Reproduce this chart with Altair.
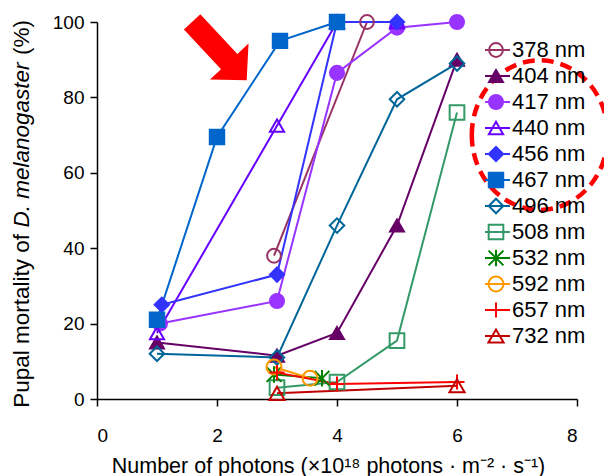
import altair as alt
import pandas as pd

series = ["378 nm", "404 nm", "417 nm", "440 nm", "456 nm", "467 nm",
          "496 nm", "508 nm", "532 nm", "592 nm", "657 nm", "732 nm"]

x_378 = [2.95, 4.5];            y_378 = [38, 100]
x_404 = [1, 3, 4, 5, 6];        y_404 = [15, 11.5, 17.5, 46, 90]
x_417 = [1.05, 3, 4, 5, 6];     y_417 = [20, 26, 86.5, 98.5, 100]
x_440 = [1, 3, 4, 5];           y_440 = [17.5, 72.5, 100, 100]
x_456 = [1.08, 3, 4, 5];        y_456 = [25, 33, 100, 100]
x_467 = [1, 2, 3.05, 4];        y_467 = [21, 69.5, 95, 100]
x_496 = [1, 3, 4, 5, 6];        y_496 = [12, 11, 46, 79.5, 89]
x_508 = [3, 4, 5, 6];           y_508 = [3, 4.5, 15.5, 76]
x_532 = [2.95, 3.75];           y_532 = [6.5, 5.5]
x_592 = [2.95, 3.55];           y_592 = [8.5, 5.5]
x_657 = [3, 4, 6];              y_657 = [7, 4, 4.5]
x_732 = [3, 6];                 y_732 = [1.5, 3.5]

xs = [x_378, x_404, x_417, x_440, x_456, x_467, x_496, x_508, x_532, x_592, x_657, x_732]
ys = [y_378, y_404, y_417, y_440, y_456, y_467, y_496, y_508, y_532, y_592, y_657, y_732]

colors = ["#993366", "#660066", "#9933FF", "#6600FF", "#3333FF", "#0066CC",
          "#006699", "#339966", "#008000", "#FF9900", "#FF0000", "#C00000"]

ASTER = "M-1,-1L1,1M-1,1L1,-1M0,-1.1L0,1.1"
PLUS = "M-1,0L1,0M0,-1L0,1"
shapes = ["circle", "triangle-up", "circle", "triangle-up", "diamond", "square",
          "diamond", "square", ASTER, "circle", PLUS, "triangle-up"]
fills = ["transparent", "#660066", "#9933FF", "transparent", "#3333FF", "#0066CC",
         "transparent", "transparent", "transparent", "transparent", "transparent", "transparent"]
sizes = [190, 230, 220, 200, 280, 320, 210, 250, 130, 190, 190, 200]

rows = []
for s, xx, yy in zip(series, xs, ys):
    for a, b in zip(xx, yy):
        rows.append({"series": s, "x": a, "y": b})
df = pd.DataFrame(rows)

# y-axis title pieces (middle part italic)
ytitle_parts = ["Pupal mortality of", "D. melanogaster", "(%)"]
xtitle = "Number of photons (×10¹⁸ photons · m⁻² · s⁻¹)"

# annotations (red arrow and dashed ellipse), positioned in data units
arrow_x = [2.04]; arrow_y = [92.3]
ellipse_x = [7.38]; ellipse_y = [70]

FONT = "Liberation Sans"

xenc = alt.X("x:Q", scale=alt.Scale(domain=[0, 8]),
             axis=alt.Axis(values=[0, 2, 4, 6, 8], format="d", title=xtitle, titleFontSize=21.5,
                           labelPadding=20, titleBaseline="middle", titleY=67, titleX=231))
yenc = alt.Y("y:Q", scale=alt.Scale(domain=[0, 100]),
             axis=alt.Axis(values=[0, 20, 40, 60, 80, 100], title=None, labelPadding=6))

stroke_enc = alt.Stroke("series:N", scale=alt.Scale(domain=series, range=colors), legend=None)
fill_enc = alt.Fill("series:N", scale=alt.Scale(domain=series, range=fills), legend=None)
shape_enc = alt.Shape("series:N", scale=alt.Scale(domain=series, range=shapes), legend=None)
size_enc = alt.Size("series:N", scale=alt.Scale(domain=series, range=sizes), legend=None)

lines = alt.Chart(df).mark_line(strokeWidth=2).encode(
    x=xenc, y=yenc, stroke=stroke_enc, detail="series:N")
points = alt.Chart(df).mark_point(opacity=1, strokeWidth=2).encode(
    x=xenc, y=yenc, stroke=stroke_enc, fill=fill_enc, shape=shape_enc, size=size_enc)

ARROW = "M-1,-0.28L0.36,-0.28L0.36,-0.66L1,0L0.36,0.66L0.36,0.28L-1,0.28Z"
arrow = alt.Chart(pd.DataFrame({"x": arrow_x, "y": arrow_y})).mark_point(
    shape=ARROW, size=6400, angle=47, filled=True, color="#FF0000", opacity=1, strokeWidth=0
).encode(x="x:Q", y="y:Q")

ELL = ("M-1,0C-1,-0.6075,-0.5523,-1.1,0,-1.1C0.5523,-1.1,1,-0.6075,1,0"
       "C1,0.6075,0.5523,1.1,0,1.1C-0.5523,1.1,-1,0.6075,-1,0Z")
ellipse = alt.Chart(pd.DataFrame({"x": ellipse_x, "y": ellipse_y})).mark_point(
    shape=ELL, size=18496, filled=False, color="#FF0000", opacity=1, strokeWidth=4.5,
    strokeDash=[12, 7]
).encode(x="x:Q", y="y:Q")

# y title as three rotated text pieces
TFS = 22.5
yt_base = alt.Chart(pd.DataFrame({"t": [0]}))
yt1 = yt_base.mark_text(text=ytitle_parts[0], angle=270, align="right", baseline="middle",
                        font=FONT, fontSize=TFS, color="black").encode(
    x=alt.value(-75), y=alt.value(212))
yt2 = yt_base.mark_text(text=ytitle_parts[1], angle=270, align="left", baseline="middle",
                        font=FONT, fontSize=TFS, fontStyle="italic", color="black").encode(
    x=alt.value(-75), y=alt.value(205.5))
yt3 = yt_base.mark_text(text=ytitle_parts[2], angle=270, align="left", baseline="middle",
                        font=FONT, fontSize=TFS, color="black").encode(
    x=alt.value(-75), y=alt.value(33))

main = alt.layer(lines, points, arrow, ellipse, yt1, yt2, yt3)

legend_df = pd.DataFrame({"series": series})
leg_y = alt.Y("series:N", scale=alt.Scale(domain=series, range=[15, 327], padding=0), axis=None)
leg_rule = alt.Chart(legend_df).mark_rule(strokeWidth=2).encode(
    y=leg_y, x=alt.value(388), x2=alt.value(413), stroke=stroke_enc)
leg_pts = alt.Chart(legend_df).mark_point(opacity=1, strokeWidth=2).encode(
    y=leg_y, x=alt.value(399), stroke=stroke_enc, fill=fill_enc, shape=shape_enc, size=size_enc)
leg_text = alt.Chart(legend_df).mark_text(align="left", baseline="middle", fontSize=22, font=FONT,
                                          color="black").encode(
    y=leg_y, x=alt.value(415), text="series:N")
legend = alt.layer(leg_rule, leg_pts, leg_text)

chart = alt.layer(main, legend).resolve_scale(y="independent").properties(
    width=480, height=377,
    autosize=alt.AutoSizeParams(type="none"),
    padding={"left": 97, "top": 22, "right": 27, "bottom": 77},
    background="white",
).configure_view(stroke="transparent").configure_axis(
    grid=False, domainColor="black", tickColor="black", labelColor="black", titleColor="black",
    labelFont=FONT, titleFont=FONT, labelFontSize=19, titleFontSize=19, titleFontWeight="normal",
    domainWidth=1.5, tickWidth=1.5, tickSize=7,
)

chart.save("out.html", embed_options={"renderer": "svg", "actions": False})
